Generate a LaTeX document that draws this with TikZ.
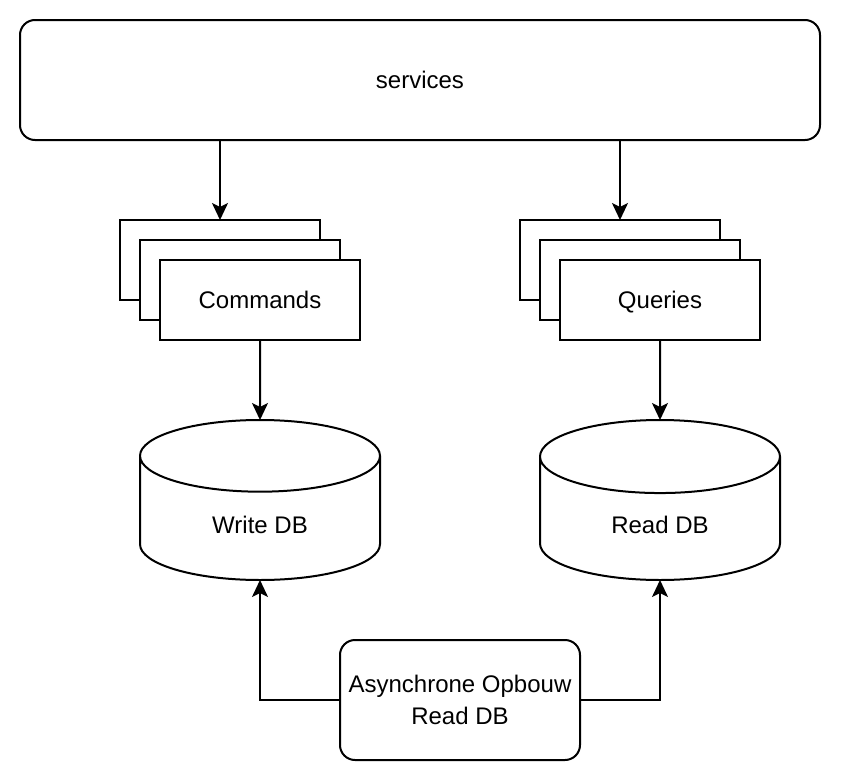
\documentclass[tikz,border=0pt]{standalone}
\usepackage{fontspec}
\setmainfont{Liberation Sans}
\usetikzlibrary{arrows.meta,shapes.geometric}
\tikzset{
    txt/.style={font=\fontsize{12}{16}\selectfont},
    box/.style={draw, line width=1pt, fill=white, minimum width=100pt, minimum height=40pt, inner sep=0pt, outer sep=0pt, text height=8.6pt, text depth=0pt, txt},
    rbox/.style={box, rounded corners=7.5pt},
    db/.style={draw, line width=1pt, cylinder, shape border rotate=90, aspect=0.75, minimum width=120pt, minimum height=80pt, inner sep=0pt, outer sep=0pt, anchor=shape center, text height=14.6pt, text depth=0pt, txt},
    arr/.style={-{Stealth[length=8.5pt, width=8pt, inset=2pt]}, line width=1pt}
}
\begin{document}
\begin{tikzpicture}[x=0.5pt, y=-0.5pt]
    \useasboundingbox (0, 0) rectangle (842, 782);

    \node[rbox, minimum width=400pt, minimum height=60pt] (svc) at(420, 80){services};

    \node[box] (cmdC) at(220, 260){};
    \node[box] (cmdB) at(240, 280){};
    \node[box] (cmd) at(260, 300){Commands};

    \node[box] (qryC) at(620, 260){};
    \node[box] (qryB) at(640, 280){};
    \node[box] (qry) at(660, 300){Queries};

    \node[db] (wdb) at(260, 500){Write DB};
    \node[db] (rdb) at(660, 500){Read DB};

    \node[rbox, minimum width=120pt, minimum height=60pt, text height=, text depth=, align=center] (async) at(460, 700){Asynchrone Opbouw\\Read DB};

    \draw[arr] (cmdC.north |- svc.south) to (cmdC.north);
    \draw[arr] (qryC.north |- svc.south) to (qryC.north);
    \draw[arr] (cmd.south) to (wdb.north);
    \draw[arr] (qry.south) to (rdb.north);
    \draw[arr] (async.west) -| (wdb.south);
    \draw[arr] (async.east) -| (rdb.south);
\end{tikzpicture}
\end{document}
